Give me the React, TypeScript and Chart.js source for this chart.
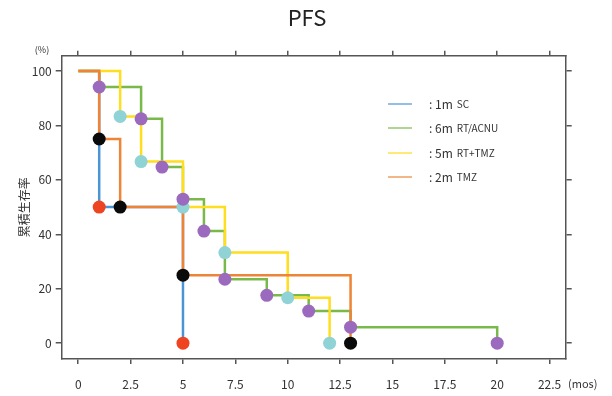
import React, { useEffect, useRef } from 'react';
import { Chart, registerables } from 'chart.js';
Chart.register(...registerables);

// ---- data ----
const legendMain = ['1m', '6m', '5m', '2m'];
const legendSub = ['SC', 'RT/ACNU', 'RT+TMZ', 'TMZ'];

const scTimes = [0, 1, 5];
const scSurv = [100, 50, 0];

const acnuTimes = [0, 1, 3, 4, 5, 6, 7, 9, 11, 13, 20];
const acnuSurv = [100, 94.1, 82.4, 64.7, 52.9, 41.2, 23.5, 17.6, 11.8, 5.9, 0];

const rtTmzTimes = [0, 2, 3, 5, 7, 10, 12];
const rtTmzSurv = [100, 83.3, 66.7, 50, 33.3, 16.7, 0];

const tmzTimes = [0, 1, 2, 5, 13];
const tmzSurv = [100, 75, 50, 25, 0];

const xTicks = [0, 2.5, 5, 7.5, 10, 12.5, 15, 17.5, 20, 22.5];
const xTickLabels = ['0', '2.5', '5', '7.5', '10', '12.5', '15', '17.5', '20', '22.5'];
const yTicks = [0, 20, 40, 60, 80, 100];
const yTickLabels = ['0', '20', '40', '60', '80', '100'];

const titleText = 'PFS';
const yTitle = '累積生存率';
const yUnit = '(%)';
const xUnit = '(mos)';

// ---- styles ----
const FONT = '"Noto Sans CJK JP", "Noto Sans", sans-serif';
const lineColors = ['#4b95d6', '#78b94a', '#ffdd1f', '#ee8437'];
const markerColors = ['#ee4422', '#9b69be', '#90d3d6', '#0a0a0a'];
const AXIS = '#555555';

const pts = (t: number[], s: number[]) => t.map((x, i) => ({ x, y: s[i] }));

const overlay = {
  id: 'overlay',
  afterDraw(chart: any) {
    const ctx = chart.ctx;
    ctx.save();
    ctx.textBaseline = 'middle';
    ctx.fillStyle = '#222';
    ctx.textAlign = 'center';
    ctx.font = `22px ${FONT}`;
    ctx.fillText(titleText, 307, 18);
    ctx.fillStyle = '#333';
    ctx.font = `9px ${FONT}`;
    ctx.fillText(yUnit, 42, 50);
    ctx.font = `11px ${FONT}`;
    ctx.textAlign = 'left';
    ctx.fillText(xUnit, 568, 384);
    // legend
    const rows = [104, 128, 153, 177];
    rows.forEach((y, i) => {
      ctx.strokeStyle = lineColors[i];
      ctx.globalAlpha = 0.8;
      ctx.lineWidth = 1.5;
      ctx.beginPath();
      ctx.moveTo(388, y);
      ctx.lineTo(412, y);
      ctx.stroke();
      ctx.globalAlpha = 1;
      ctx.fillStyle = '#333';
      ctx.font = `12px ${FONT}`;
      const head = ': ' + legendMain[i];
      ctx.fillText(head, 429, y);
      const w = ctx.measureText(head).width;
      ctx.font = `10px ${FONT}`;
      ctx.fillText(legendSub[i], 429 + w + 4, y + 0.5);
    });
    ctx.restore();
  },
};

const xAxis = (pos: 'bottom' | 'top', size: number, showLabels: boolean) => ({
  type: 'linear',
  position: pos,
  display: true,
  min: -0.79,
  max: 23.27,
  afterBuildTicks: (s: any) => {
    s.ticks = xTicks.map((v) => ({ value: v }));
  },
  afterFit: (s: any) => {
    s.height = size;
  },
  grid: { drawOnChartArea: false, drawTicks: true, tickLength: 5, color: AXIS, lineWidth: 1.5 },
  border: { display: true, color: AXIS, width: 1.5 },
  ticks: {
    display: showLabels,
    padding: 13,
    color: '#333',
    font: { family: FONT, size: 12 },
    maxRotation: 0,
    callback: (v: number) => xTickLabels[xTicks.indexOf(v)] ?? String(v),
  },
});

const yAxis = (pos: 'left' | 'right', size: number, showLabels: boolean) => ({
  type: 'linear',
  position: pos,
  display: true,
  min: -5.8,
  max: 105.6,
  afterBuildTicks: (s: any) => {
    s.ticks = yTicks.map((v) => ({ value: v }));
  },
  afterFit: (s: any) => {
    s.width = size;
  },
  grid: { drawOnChartArea: false, drawTicks: true, tickLength: 6, color: AXIS, lineWidth: 1.5 },
  border: { display: true, color: AXIS, width: 1.5 },
  title: showLabels
    ? { display: true, text: yTitle, color: '#333', font: { family: FONT, size: 12 }, padding: { top: 17, bottom: 0 } }
    : { display: false },
  ticks: {
    display: showLabels,
    padding: 4,
    color: '#333',
    font: { family: FONT, size: 12 },
    callback: (v: number) => yTickLabels[yTicks.indexOf(v)] ?? String(v),
  },
});

export default function App() {
  const ref = useRef<HTMLCanvasElement>(null);
  useEffect(() => {
    if (!ref.current) return;
    const series = [
      { t: scTimes, s: scSurv, lineOrder: 13, markOrder: 3 },
      { t: acnuTimes, s: acnuSurv, lineOrder: 12, markOrder: 1 },
      { t: rtTmzTimes, s: rtTmzSurv, lineOrder: 11, markOrder: 2 },
      { t: tmzTimes, s: tmzSurv, lineOrder: 10, markOrder: 0 },
    ];
    const datasets: any[] = [];
    series.forEach((sr, i) => {
      datasets.push({
        type: 'line',
        data: pts(sr.t, sr.s),
        borderColor: lineColors[i],
        borderWidth: 2.5,
        stepped: 'before',
        fill: false,
        pointRadius: 0,
        order: sr.lineOrder,
        xAxisID: 'x',
        yAxisID: 'y',
      });
      datasets.push({
        type: 'scatter',
        data: pts(sr.t.slice(1), sr.s.slice(1)),
        showLine: false,
        pointRadius: 6.5,
        pointBackgroundColor: markerColors[i],
        pointBorderWidth: 0,
        order: sr.markOrder,
        xAxisID: 'x',
        yAxisID: 'y',
      });
    });
    const chart = new Chart(ref.current, {
      type: 'line',
      data: { datasets },
      options: {
        responsive: false,
        animation: false,
        devicePixelRatio: 1,
        layout: { padding: 0 },
        plugins: { legend: { display: false }, tooltip: { enabled: false }, title: { display: false } },
        scales: {
          x: xAxis('bottom', 37, true),
          x2: xAxis('top', 55.7, false),
          y: yAxis('left', 61.7, true),
          y2: yAxis('right', 46.3, false),
        } as any,
      },
      plugins: [overlay],
    } as any);
    return () => chart.destroy();
  }, []);
  return (
    <div style={{ position: 'absolute', left: 0, top: 0, width: 612, height: 396, background: '#fff' }}>
      <canvas ref={ref} width={612} height={396} style={{ display: 'block' }} />
    </div>
  );
}
